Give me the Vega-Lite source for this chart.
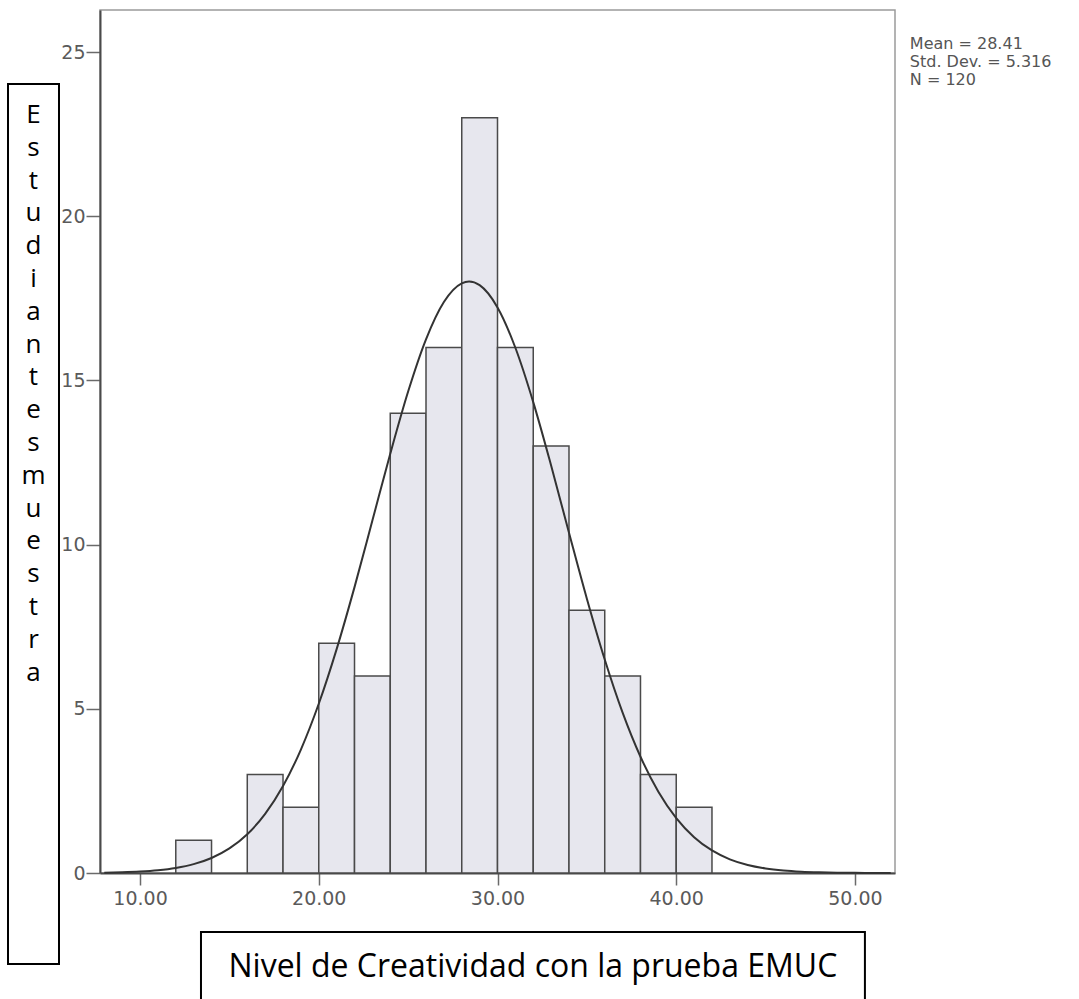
{
  "$schema": "https://vega.github.io/schema/vega-lite/v6.json",
  "autosize": {"type": "none"},
  "width": 795,
  "height": 863,
  "padding": {"left": 100, "top": 10, "right": 184, "bottom": 126},
  "background": "white",
  "config": {
    "view": {"stroke": "#9a9a9a", "strokeWidth": 1.5},
    "axis": {"grid": false, "labelFont": "DejaVu Sans", "labelFontSize": 19, "labelColor": "#5a5a5a", "domainColor": "#4a4a4a", "domainWidth": 2, "tickColor": "#6a6a6a", "tickWidth": 1.5, "title": null}
  },
  "datasets": {
    "bins": [
      {"start": 12, "end": 14, "count": 1},
      {"start": 16, "end": 18, "count": 3},
      {"start": 18, "end": 20, "count": 2},
      {"start": 20, "end": 22, "count": 7},
      {"start": 22, "end": 24, "count": 6},
      {"start": 24, "end": 26, "count": 14},
      {"start": 26, "end": 28, "count": 16},
      {"start": 28, "end": 30, "count": 23},
      {"start": 30, "end": 32, "count": 16},
      {"start": 32, "end": 34, "count": 13},
      {"start": 34, "end": 36, "count": 8},
      {"start": 36, "end": 38, "count": 6},
      {"start": 38, "end": 40, "count": 3},
      {"start": 40, "end": 42, "count": 2}
    ],
    "curve": [
      {"x": 8, "y": 0.0114}, {"x": 9, "y": 0.0230}, {"x": 10, "y": 0.0448}, {"x": 11, "y": 0.0844},
      {"x": 12, "y": 0.1536}, {"x": 13, "y": 0.2696}, {"x": 14, "y": 0.4571}, {"x": 15, "y": 0.7478},
      {"x": 16, "y": 1.1807}, {"x": 17, "y": 1.7993}, {"x": 18, "y": 2.6476}, {"x": 19, "y": 3.7598},
      {"x": 20, "y": 5.153}, {"x": 21, "y": 6.8177}, {"x": 22, "y": 8.7056}, {"x": 23, "y": 10.732},
      {"x": 24, "y": 12.767}, {"x": 25, "y": 14.662}, {"x": 26, "y": 16.252}, {"x": 27, "y": 17.388},
      {"x": 28, "y": 17.957}, {"x": 28.41, "y": 18.011}, {"x": 29, "y": 17.9}, {"x": 30, "y": 17.223},
      {"x": 31, "y": 15.995}, {"x": 32, "y": 14.339}, {"x": 33, "y": 12.407}, {"x": 34, "y": 10.361},
      {"x": 35, "y": 8.353}, {"x": 36, "y": 6.4997}, {"x": 37, "y": 4.8817}, {"x": 38, "y": 3.539},
      {"x": 39, "y": 2.4764}, {"x": 40, "y": 1.6727}, {"x": 41, "y": 1.0906}, {"x": 42, "y": 0.6862},
      {"x": 43, "y": 0.4168}, {"x": 44, "y": 0.2443}, {"x": 45, "y": 0.1382}, {"x": 46, "y": 0.0755},
      {"x": 47, "y": 0.0398}, {"x": 48, "y": 0.0203}, {"x": 49, "y": 0.0099}, {"x": 50, "y": 0.0047},
      {"x": 51, "y": 0.0021}, {"x": 52, "y": 0.0009}
    ],
    "one": [{}]
  },
  "layer": [
    {
      "data": {"name": "bins"},
      "mark": {"type": "rect", "fill": "#e7e7ee", "stroke": "#4a4a4a", "strokeWidth": 1.5},
      "encoding": {
        "x": {"field": "start", "type": "quantitative", "scale": {"domain": [7.76, 52.24], "nice": false, "zero": false},
              "axis": {"values": [10, 20, 30, 40, 50], "format": ".2f", "tickSize": 12, "labelPadding": 4}},
        "x2": {"field": "end"},
        "y": {"field": "count", "type": "quantitative", "scale": {"domain": [0, 26.28], "nice": false},
              "axis": {"values": [0, 5, 10, 15, 20, 25], "format": "d", "tickSize": 14, "labelPadding": 1}},
        "y2": {"datum": 0}
      }
    },
    {
      "data": {"name": "curve"},
      "mark": {"type": "line", "color": "#333333", "strokeWidth": 2, "interpolate": "monotone"},
      "encoding": {
        "x": {"field": "x", "type": "quantitative"},
        "y": {"field": "y", "type": "quantitative"}
      }
    },
    {
      "data": {"name": "one"},
      "mark": {"type": "text", "align": "left", "baseline": "alphabetic", "font": "DejaVu Sans", "fontSize": 16, "lineHeight": 18, "color": "#555555", "lineBreak": "\n",
               "text": "Mean = 28.41\nStd. Dev. = 5.316\nN = 120"},
      "encoding": {"x": {"datum": 53.07}, "y": {"datum": 25.08}}
    },
    {
      "data": {"name": "one"},
      "mark": {"type": "rect", "fill": "transparent", "stroke": "black", "strokeWidth": 2},
      "encoding": {"x": {"datum": 2.613}, "x2": {"datum": 5.466}, "y": {"datum": 24.026}, "y2": {"datum": -2.771}}
    },
    {
      "data": {"name": "one"},
      "mark": {"type": "text", "align": "center", "baseline": "alphabetic", "font": "Open Sans", "fontSize": 26, "lineHeight": 32.8, "color": "black", "lineBreak": "\n",
               "text": "E\ns\nt\nu\nd\ni\na\nn\nt\ne\ns\nm\nu\ne\ns\nt\nr\na"},
      "encoding": {"x": {"datum": 4.04}, "y": {"datum": 22.84}}
    },
    {
      "data": {"name": "one"},
      "mark": {"type": "rect", "fill": "transparent", "stroke": "black", "strokeWidth": 2},
      "encoding": {"x": {"datum": 13.41}, "x2": {"datum": 50.557}, "y": {"datum": -1.797}, "y2": {"datum": -4.05}}
    },
    {
      "data": {"name": "one"},
      "mark": {"type": "text", "align": "center", "baseline": "alphabetic", "font": "Open Sans", "fontSize": 32, "color": "black",
               "text": "Nivel de Creatividad con la prueba EMUC"},
      "encoding": {"x": {"datum": 31.98}, "y": {"datum": -3.167}}
    }
  ]
}
